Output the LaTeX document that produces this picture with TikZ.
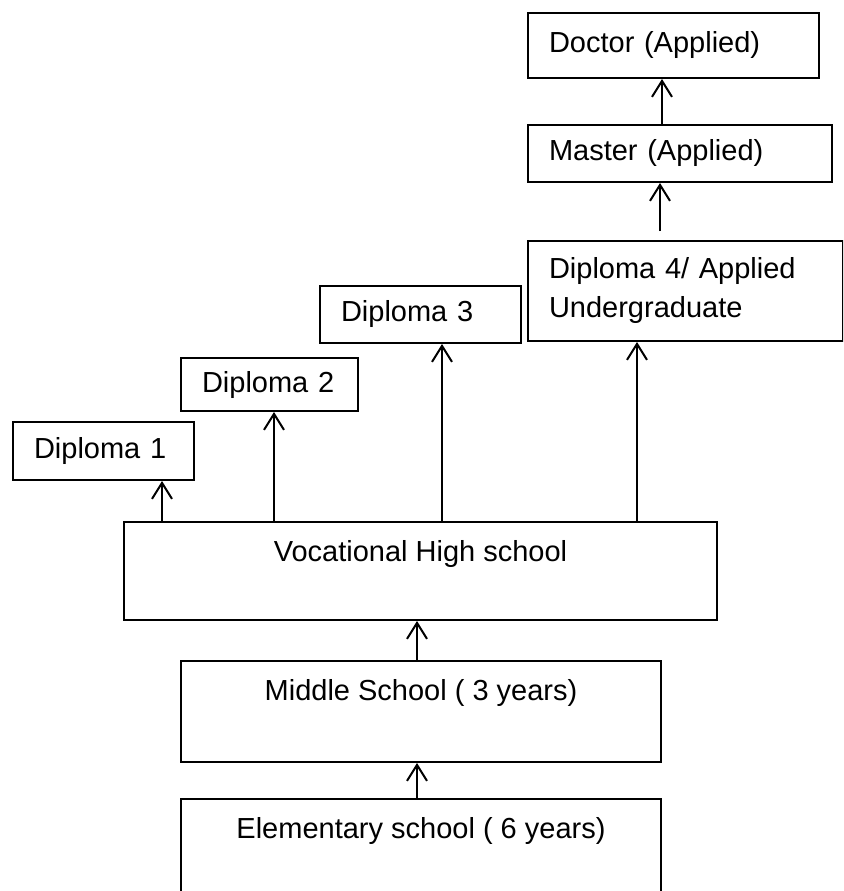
\documentclass[tikz,border=0pt]{standalone}
\usepackage{fontspec}
\setmainfont{Liberation Sans}
\usetikzlibrary{arrows.meta}

\tikzset{
  degbox/.style={draw, line width=1.5pt, anchor=north west, align=left,
    inner xsep=15.75pt, inner ysep=2pt},
  schoolbox/.style={draw, line width=1.5pt, anchor=north west, align=center,
    inner xsep=0pt, inner ysep=13.5pt, text height=15.75pt},
  arr/.style={line width=1.5pt, -{Straight Barb[length=12pt,width=15pt]}}
}

\begin{document}
\begin{tikzpicture}[x=0.75pt,y=0.75pt,yscale=-1,xscale=1,
  font=\fontsize{21.75}{29.25}\selectfont]
\clip (0,0) rectangle (843,891); %diagram is 843 wide and 891 high
% schools
\node [schoolbox, minimum width=444.75pt, text depth=30.75pt] (vhs) at (123,521) {Vocational High school};
\node [schoolbox, minimum width=360pt, text depth=33pt] (middle) at (180,660) {Middle School ( 3 years)};
\node [schoolbox, minimum width=360pt, text depth=56.25pt] (elem) at (180,798) {Elementary school ( 6 years)};
% degrees
\node [degbox, text width=104.25pt, minimum height=43.5pt] (dip1) at (12,421) {Diploma 1};
\node [degbox, text width=101.25pt, minimum height=39.75pt] (dip2) at (180,357) {Diploma 2};
\node [degbox, text width=119.25pt, minimum height=42.75pt] (dip3) at (319,285) {Diploma 3};
\node [degbox, text width=204.75pt, minimum height=75pt] (dip4) at (527,240) {Diploma 4/ Applied\\Undergraduate};
\node [degbox, text width=196.5pt, minimum height=42.75pt] (master) at (527,124) {Master (Applied)};
\node [degbox, text width=186.75pt, minimum height=48.75pt] (doctor) at (527,12) {Doctor (Applied)};
% arrows
\draw [arr] (elem.north -| 417,0) -- (middle.south -| 417,0);
\draw [arr] (middle.north -| 417,0) -- (vhs.south -| 417,0);
\draw [arr] (vhs.north -| 162,0) -- (dip1.south -| 162,0);
\draw [arr] (vhs.north -| 274,0) -- (dip2.south -| 274,0);
\draw [arr] (vhs.north -| 442,0) -- (dip3.south -| 442,0);
\draw [arr] (vhs.north -| 637,0) -- (dip4.south -| 637,0);
\draw [arr] ([yshift=-6.75pt]dip4.north -| 660,0) -- (master.south -| 660,0);
\draw [arr] (master.north -| 662,0) -- (doctor.south -| 662,0);
\end{tikzpicture}
\end{document}
